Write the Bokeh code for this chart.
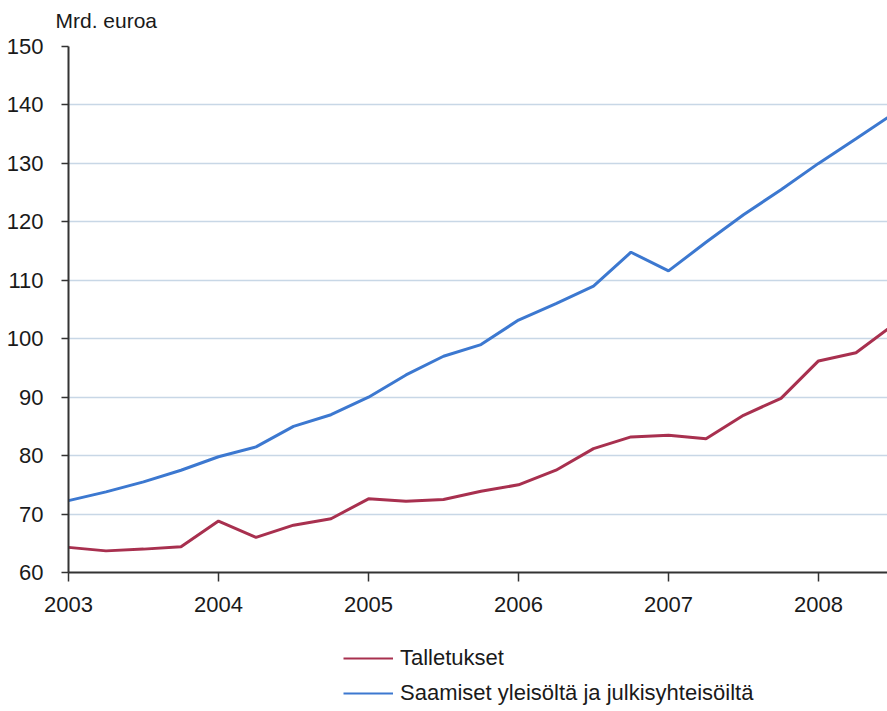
from bokeh.plotting import figure
from bokeh.layouts import column
from bokeh.models import Range1d, FixedTicker, Legend, LegendItem
from bokeh.embed import file_html
from bokeh.resources import INLINE

# Quarterly observations, 2003Q1 .. 2008Q3 (billion euro)
quarters = [2003.0, 2003.25, 2003.5, 2003.75,
            2004.0, 2004.25, 2004.5, 2004.75,
            2005.0, 2005.25, 2005.5, 2005.75,
            2006.0, 2006.25, 2006.5, 2006.75,
            2007.0, 2007.25, 2007.5, 2007.75,
            2008.0, 2008.25, 2008.5]

talletukset = [64.3, 63.7, 64.0, 64.4,
               68.8, 66.0, 68.1, 69.2,
               72.6, 72.2, 72.5, 73.9,
               75.0, 77.5, 81.2, 83.2,
               83.5, 82.9, 86.9, 89.8,
               96.2, 97.6, 102.4]

saamiset = [72.3, 73.8, 75.5, 77.5,
            79.8, 81.5, 85.0, 87.0,
            90.0, 93.8, 97.0, 99.0,
            103.2, 106.0, 109.0, 114.8,
            111.6, 116.5, 121.2, 125.5,
            130.0, 134.2, 138.5]

year_ticks = [2003, 2004, 2005, 2006, 2007, 2008]
value_ticks = [60, 70, 80, 90, 100, 110, 120, 130, 140, 150]

unit_caption = "Mrd. euroa"
series_names = ["Talletukset", "Saamiset yleisöltä ja julkisyhteisöiltä"]
series_colors = ["#A8304F", "#3C78D0"]

FONT = "Liberation Sans"
TEXT = "#1a1a1a"


def strip(height, **kw):
    """An empty, axis-less band used for the caption and the key."""
    f = figure(width=887, height=height, output_backend="svg",
               toolbar_location=None, x_axis_location=None,
               y_axis_location=None, min_border_left=0, min_border_right=0,
               **kw)
    f.outline_line_color = None
    f.grid.grid_line_color = None
    return f


# ---- unit caption above the value axis --------------------------------
head = strip(33, min_border_top=0, min_border_bottom=25,
             title=unit_caption, title_location="below")
head.title.text_font = FONT
head.title.text_font_size = "21px"
head.title.text_font_style = "normal"
head.title.text_color = TEXT
head.title.align = "left"
head.title.vertical_align = "top"
head.title.offset = -13
head.title.standoff = 0

# ---- main chart -------------------------------------------------------
p = figure(width=887, height=597, output_backend="svg", toolbar_location=None,
           x_range=Range1d(2003, 2008.46), y_range=Range1d(60, 150),
           min_border_left=68, min_border_right=0,
           min_border_top=13, min_border_bottom=58)
p.outline_line_color = None
p.background_fill_color = "white"
p.border_fill_color = "white"

p.line(quarters, talletukset, line_color=series_colors[0], line_width=3)
p.line(quarters, saamiset, line_color=series_colors[1], line_width=3)

p.xaxis.ticker = FixedTicker(ticks=year_ticks)
p.yaxis.ticker = FixedTicker(ticks=value_ticks)
for ax in (p.xaxis[0], p.yaxis[0]):
    ax.axis_line_color = "#333333"
    ax.axis_line_width = 2
    ax.major_tick_line_color = "#333333"
    ax.major_tick_line_width = 1.5
    ax.major_tick_in = 0
    ax.minor_tick_line_color = None
    ax.major_label_text_font = FONT
    ax.major_label_text_font_size = "22px"
    ax.major_label_text_color = TEXT
p.xaxis.major_tick_out = 9
p.yaxis.major_tick_out = 7
p.xaxis.major_label_standoff = 15
p.yaxis.major_label_standoff = 18

p.xgrid.grid_line_color = None
p.ygrid.grid_line_color = "#c8d7e6"
p.ygrid.grid_line_width = 1.5

# ---- key below the chart ----------------------------------------------
# the key lines are hidden copies of the series; only their legend glyphs show
lg = strip(81, min_border_top=0, min_border_bottom=0)
k1 = lg.line(quarters, talletukset, line_color=series_colors[0], line_width=2,
             visible=False)
k2 = lg.line(quarters, saamiset, line_color=series_colors[1], line_width=2,
             visible=False)

legend = Legend(items=[LegendItem(label=series_names[0], renderers=[k1]),
                       LegendItem(label=series_names[1], renderers=[k2])],
                location=(275, 5), orientation="vertical",
                glyph_width=50, glyph_height=22, label_standoff=7,
                label_text_font=FONT, label_text_font_size="22px",
                label_text_color=TEXT, spacing=9, padding=0, margin=0,
                border_line_color=None, background_fill_alpha=0,
                inactive_fill_alpha=0)
lg.add_layout(legend, "center")

layout = column(head, p, lg, spacing=0)
open("out.html", "w").write(file_html(layout, INLINE))
